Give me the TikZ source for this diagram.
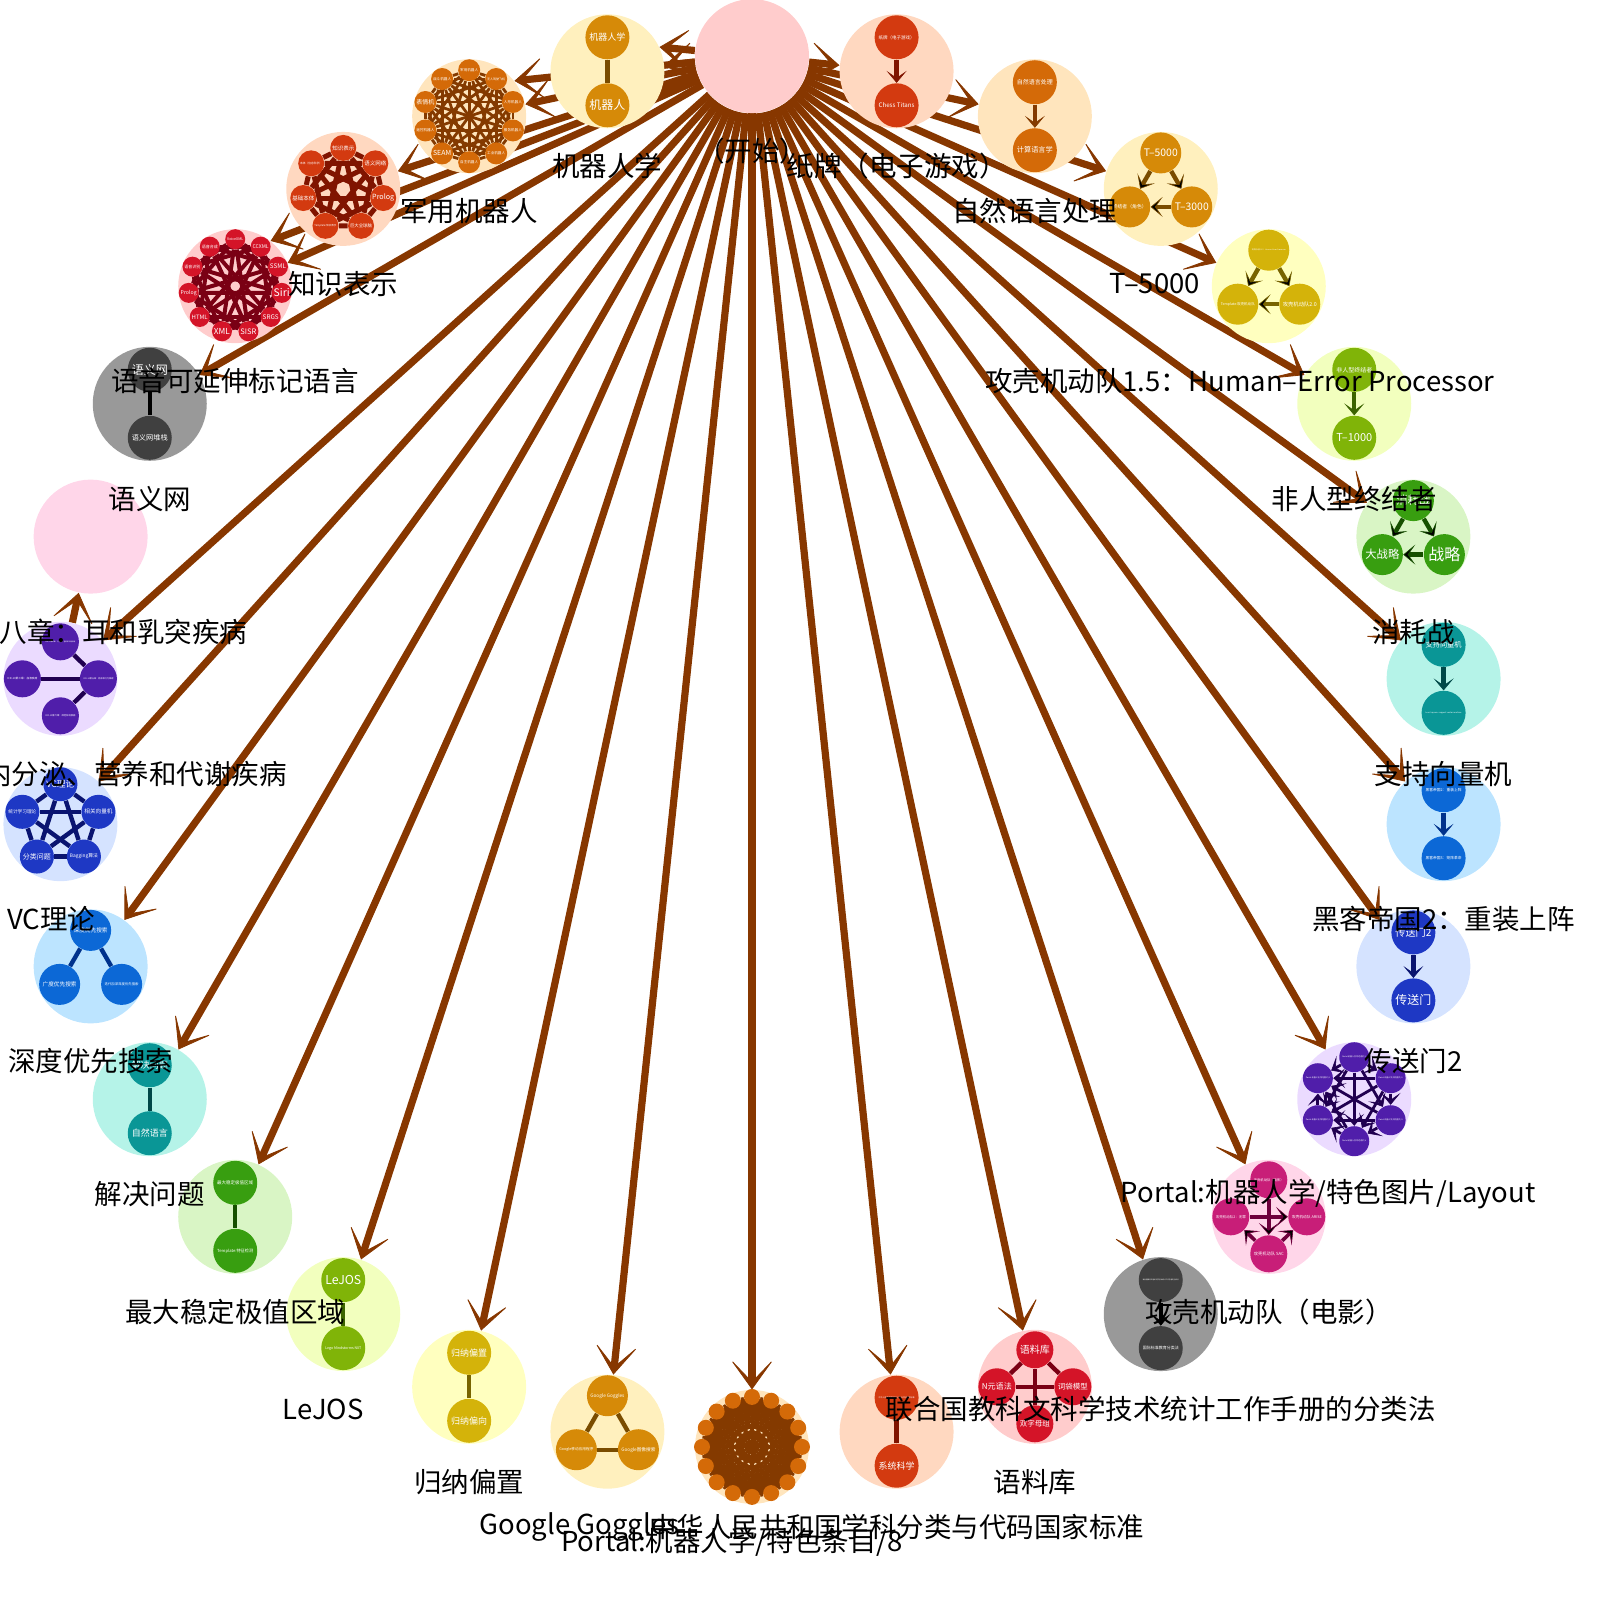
\documentclass[tikz,border=0pt]{standalone}
\usepackage{fontspec}
\setmainfont{Noto Sans CJK SC}
\usepackage{graphicx}
\usetikzlibrary{arrows.meta, calc}
\pgfdeclarelayer{back}
\pgfdeclarelayer{hubs}
\pgfdeclarelayer{links}
\pgfsetlayers{back,hubs,links,main}

\definecolor{flowc}{RGB}{135,55,0}
% pale cluster colours, dark page colours and link colours (13 in turn)
\definecolor{bg0}{HTML}{FFCCCC}\definecolor{nd0}{HTML}{D41428}\definecolor{ed0}{HTML}{7A0014}
\definecolor{bg1}{HTML}{FFD8C0}\definecolor{nd1}{HTML}{D33A10}\definecolor{ed1}{HTML}{801400}
\definecolor{bg2}{HTML}{FFE5BD}\definecolor{nd2}{HTML}{D46A08}\definecolor{ed2}{HTML}{843A00}
\definecolor{bg3}{HTML}{FFF0BE}\definecolor{nd3}{HTML}{D68A08}\definecolor{ed3}{HTML}{7A4C00}
\definecolor{bg4}{HTML}{FFFFBF}\definecolor{nd4}{HTML}{D4B30A}\definecolor{ed4}{HTML}{786400}
\definecolor{bg5}{HTML}{F2FFBE}\definecolor{nd5}{HTML}{80B408}\definecolor{ed5}{HTML}{3C6400}
\definecolor{bg6}{HTML}{D9F5C5}\definecolor{nd6}{HTML}{389E10}\definecolor{ed6}{HTML}{165000}
\definecolor{bg7}{HTML}{B5F3E8}\definecolor{nd7}{HTML}{0A9696}\definecolor{ed7}{HTML}{004848}
\definecolor{bg8}{HTML}{BCE4FF}\definecolor{nd8}{HTML}{0C68D6}\definecolor{ed8}{HTML}{00328C}
\definecolor{bg9}{HTML}{D5E3FF}\definecolor{nd9}{HTML}{1E38C4}\definecolor{ed9}{HTML}{0A1470}
\definecolor{bg10}{HTML}{EBDBFF}\definecolor{nd10}{HTML}{501EAA}\definecolor{ed10}{HTML}{200050}
\definecolor{bg11}{HTML}{FFD6E9}\definecolor{nd11}{HTML}{C81E78}\definecolor{ed11}{HTML}{6E003C}
\definecolor{bg12}{HTML}{999999}\definecolor{nd12}{HTML}{404040}\definecolor{ed12}{HTML}{000000}

\newsavebox\inbox
\newcommand\inlbl[2]{\sbox\inbox{\fontsize{8}{9}\selectfont #2}%
  \ifdim\wd\inbox>#1\relax\resizebox{#1}{!}{\usebox\inbox}\else\usebox\inbox\fi}

\begin{document}
\begin{tikzpicture}[x=0.5pt, y=-0.5pt,
  hub/.style={circle, inner sep=0pt, minimum size=57pt},
  inode/.style={circle, inner sep=0pt, minimum size=#1pt, text=white},
  flow/.style={draw=flowc, line width=3.6pt,
    -{Stealth[length=16pt, width=23pt, inset=12pt, line width=0.4pt]}},
  tie/.style={line width=#1pt}, tie/.default=2.2,
  tiea/.style={line width=#1pt,
    -{Stealth[length=6pt, width=10pt, inset=3.5pt, line width=0.3pt]}}, tiea/.default=2.2,
  lbl/.style={font=\fontsize{13.75}{16}\selectfont, inner sep=0pt}]
\useasboundingbox (0,0) rectangle (1600,1600);

% clusters on the big ring
\begin{pgfonlayer}{hubs}
  \foreach \k in {0,...,29}{
    \pgfmathtruncatemacro\p{mod(\k,13)}
    \node[hub, fill=bg\p] (c\k) at ($(752,751.5)+(-90+12*\k:695.4)$) {};
  }
\end{pgfonlayer}

% links from the start page
\begin{pgfonlayer}{back}
  \foreach \k in {1,...,23,25,26,27,28,29}
    \draw[flow] (c0) -- (c\k);
  \draw[flow] (c0) -- (c29.25);
  \draw[flow] (c0) -- (c28.38);
  \draw[flow] (c0) -- (c26.52);
  \draw[flow] (c23) -- (c24);
\end{pgfonlayer}

% two pages
\foreach \k/\p/\ta/\tb in {
  1/1/纸牌（电子游戏）/Chess Titans,
  2/2/自然语言处理/计算语言学,
  5/5/非人型终结者/T–1000,
  7/7/支持向量机/Least squares support vector machine,
  8/8/黑客帝国2：重装上阵/黑客帝国3：矩阵革命,
  9/9/传送门2/传送门,
  12/12/联合国教科文组织科学技术统计工作手册的分类法/国际标准教育分类法,
  14/1/中华人民共和国学科分类与代码国家标准/系统科学,
  17/4/归纳偏置/归纳偏向,
  18/5/LeJOS/Lego Mindstorms NXT,
  19/6/最大稳定极值区域/Template:特征检测,
  20/7/解决问题/自然语言,
  25/12/语义网/语义网堆栈,
  29/3/机器人学/机器人}{
  \node[inode=22, fill=nd\p] (n\k-a) at ($(c\k)+(0,-34)$) {\inlbl{18pt}{\ta}};
  \node[inode=22, fill=nd\p] (n\k-b) at ($(c\k)+(0,34)$) {\inlbl{18pt}{\tb}};
}

% three pages
\foreach \k/\p/\ta/\tb/\tc in {
  3/3/T–5000/终结者（角色）/T–3000,
  4/4/攻壳机动队1.5：Human–Error Processor/Template:攻壳机动队/攻壳机动队2.0,
  6/6/消耗战/大战略/战略,
  16/3/Google Goggles/Google移动应用程序/Google图像搜索,
  21/8/深度优先搜索/广度优先搜索/迭代加深深度优先搜索}{
  \node[inode=20.5, fill=nd\p] (n\k-t) at ($(c\k)+(0,-36)$) {\inlbl{17pt}{\ta}};
  \node[inode=20.5, fill=nd\p] (n\k-l) at ($(c\k)+(-31,18)$) {\inlbl{17pt}{\tb}};
  \node[inode=20.5, fill=nd\p] (n\k-r) at ($(c\k)+(31,18)$) {\inlbl{17pt}{\tc}};
}

% four pages
\foreach \k/\p/\ta/\tb/\tc/\td in {
  11/11/攻壳机动队（电影）/攻壳机动队2：无罪/攻壳机动队 ARISE/攻壳机动队 SAC,
  13/0/语料库/N元语法/词袋模型/双字母组,
  23/10/ICD-10第四章：内分泌、营养和代谢疾病/ICD-10第三章：血液疾病/ICD-10第五章：精神和行为障碍/ICD-10第六章：神经系统疾病}{
  \node[inode=18.5, fill=nd\p] (n\k-t) at ($(c\k)+(0,-37)$) {\inlbl{15pt}{\ta}};
  \node[inode=18.5, fill=nd\p] (n\k-l) at ($(c\k)+(-38,0)$) {\inlbl{15pt}{\tb}};
  \node[inode=18.5, fill=nd\p] (n\k-r) at ($(c\k)+(38,0)$) {\inlbl{15pt}{\tc}};
  \node[inode=18.5, fill=nd\p] (n\k-b) at ($(c\k)+(0,37)$) {\inlbl{15pt}{\td}};
}

% rings
\foreach \i/\txt in {0/VC理论, 1/相关向量机, 2/Bagging算法, 3/分类问题, 4/统计学习理论}
  \node[inode=17, fill=nd9] (v\i) at ($(c22)+(-90+72*\i:40)$) {\inlbl{14pt}{\txt}};
\foreach \i in {1,...,6}
  \node[inode=15, fill=nd10] (h\i) at ($(c10)+(-150+60*\i:42)$)
    {\inlbl{12pt}{Portal:机器人学/特色图片/\i}};
\foreach \i/\txt in {0/知识表示, 1/语义网络, 2/Prolog, 3/巨大全球脑, 4/Template:知识表示,
    5/基础本体, 6/本体（信息科学）}
  \node[inode=13, fill=nd1] (s\i) at ($(c27)+(-90+360/7*\i:41)$) {\inlbl{11pt}{\txt}};
\foreach \i/\txt in {0/军用机器人, 1/无人驾驶飞机, 2/人形机器人, 3/服务机器人, 4/工业机器人,
    5/自主机器人, 6/SEAM, 7/遥控机器人, 8/表情机, 9/战斗机器人}
  \node[inode=11, fill=nd2] (m\i) at ($(c28)+(-90+36*\i:46)$) {\inlbl{9pt}{\txt}};
\foreach \i/\txt in {0/VoiceXML, 1/CCXML, 2/SSML, 3/Siri, 4/SRGS, 5/SISR, 6/XML, 7/HTML,
    8/Prolog, 9/语音识别, 10/语音合成}
  \node[inode=10, fill=nd0] (w\i) at ($(c26)+(-90+360/11*\i:47)$) {\inlbl{8pt}{\txt}};
\foreach \i in {0,...,15}
  \node[inode=8, fill=nd2] (b\i) at ($(c15)+(-90+22.5*\i:50)$) {};

% links inside the clusters
\begin{pgfonlayer}{links}
  \foreach \k/\p in {1/1, 2/2, 5/5, 7/7, 8/8, 9/9, 12/12}
    \draw[tiea, draw=ed\p] (n\k-a) -- (n\k-b);
  \foreach \k/\p in {14/1, 17/4, 18/5, 19/6, 20/7, 25/12, 29/3}
    \draw[tie, draw=ed\p] (n\k-a) -- (n\k-b);
  \foreach \k/\p in {3/3, 4/4, 6/6}
    \draw[tiea, draw=ed\p] (n\k-t) edge (n\k-l) edge (n\k-r) (n\k-r) edge (n\k-l);
  \draw[tie, draw=ed3] (n16-t) edge (n16-l) edge (n16-r) (n16-l) edge (n16-r);
  \draw[tie, draw=ed8] (n21-t) edge (n21-l) edge (n21-r);
  \draw[tiea=1.8, draw=ed11] (n11-t) edge (n11-b) (n11-l) edge (n11-r)
    (n11-b) edge (n11-l) edge (n11-r);
  \draw[tie, draw=ed0] (n13-t) edge (n13-b) edge (n13-l) edge (n13-r) (n13-l) edge (n13-r);
  \draw[tie, draw=ed10] (n23-l) edge (n23-r) (n23-t) edge (n23-r) (n23-r) edge (n23-b);
  \foreach \i in {0,...,4}{\foreach \j in {0,...,4}{
    \ifnum\i<\j \draw[tie, draw=ed9] (v\i) -- (v\j); \fi}}
  \foreach \i in {1,...,6}{\foreach \j in {1,...,6}{
    \ifnum\i<\j \draw[tiea=1.4, draw=ed10] (h\i) -- (h\j); \fi}}
  \foreach \i in {0,...,6}{\foreach \j in {0,...,6}{
    \ifnum\i<\j \draw[tie=2.5, draw=ed1] (s\i) -- (s\j); \fi}}
  \foreach \i in {0,...,9}{\foreach \j in {0,...,9}{
    \ifnum\i<\j \draw[tie=1.4, draw=ed2] (m\i) -- (m\j); \fi}}
  \foreach \i in {0,...,10}{\foreach \d in {2,3,5}{
    \pgfmathtruncatemacro\j{mod(\i+\d,11)}
    \draw[tie=2, draw=ed0] (w\i) -- (w\j);}}
  \foreach \i in {0,...,15}{\foreach \j in {0,...,15}{
    \ifnum\i<\j \draw[tie=1.5, draw=ed2] (b\i) -- (b\j); \fi}}
\end{pgfonlayer}

% page titles
\foreach \k/\dx/\txt in {0/0/（开始）, 1/0/纸牌（电子游戏）, 2/0/自然语言处理, 3/-6/T–5000,
    4/-29/攻壳机动队1.5：Human–Error Processor, 5/0/非人型终结者, 6/0/消耗战,
    7/0/支持向量机, 8/0/黑客帝国2：重装上阵, 9/0/传送门2,
    10/-26/{Portal:机器人学/特色图片/Layout}, 11/0/攻壳机动队（电影）,
    12/0/联合国教科文科学技术统计工作手册的分类法, 13/0/语料库,
    14/0/中华人民共和国学科分类与代码国家标准, 15/-20/{Portal:机器人学/特色条目/8},
    16/-28/Google Goggles, 17/0/归纳偏置, 18/-20/LeJOS, 19/0/最大稳定极值区域,
    20/0/解决问题, 21/0/深度优先搜索, 22/-9/VC理论, 23/20/第四章：内分泌、营养和代谢疾病,
    24/19/第八章：耳和乳突疾病, 25/0/语义网, 26/0/语音可延伸标记语言, 27/0/知识表示,
    28/0/军用机器人, 29/0/机器人学}
  \node[lbl] (t\k) at ($(c\k)+(\dx,95)$) {\txt};
\end{tikzpicture}
\end{document}
